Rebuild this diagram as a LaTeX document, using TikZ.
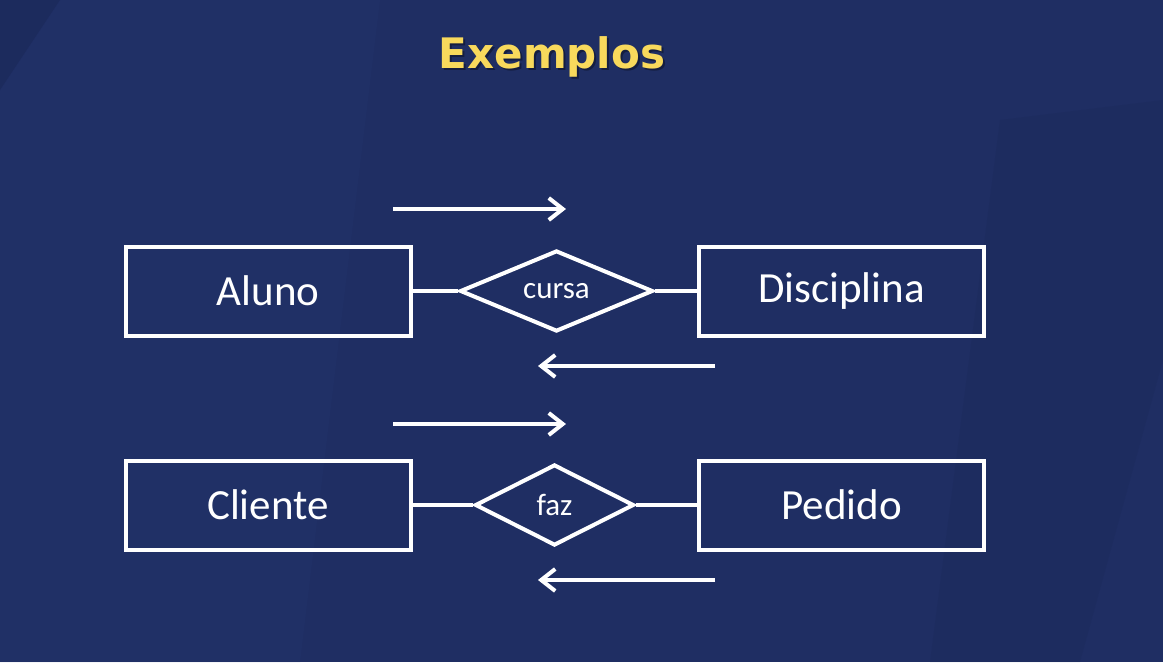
\documentclass[tikz,border=0pt]{standalone}
\usepackage{fontspec}
\setmainfont{Carlito}
\newfontfamily\titlefont{DejaVu Sans}
\usetikzlibrary{shapes.geometric,arrows.meta}
\definecolor{bgblue}{HTML}{1F2E63}
\definecolor{bglight}{HTML}{22346C}
\definecolor{bgdark}{HTML}{1B2959}
\definecolor{titleyellow}{HTML}{F8D95C}
\tikzset{
  entity/.style={draw=white, line width=4pt, minimum width=285pt, minimum height=89pt,
    inner sep=0pt, text=white, font=\fontsize{43}{47}\selectfont},
  relation/.style={draw=white, line width=4pt, diamond, aspect=2.4, inner sep=1pt,
    text=white, font=\fontsize{31}{35}\selectfont},
  link/.style={draw=white, line width=4pt},
  flow/.style={draw=white, line width=4pt, -{Straight Barb[length=14pt, width=22pt, line width=4pt]}},
}
\begin{document}
\begin{tikzpicture}[x=1pt, y=-1pt]
\useasboundingbox (0,0) rectangle (1163,662);
\fill[bgblue] (0,0) rectangle (1163,662);
\fill[bglight, opacity=0.4] (0,90) -- (60,0) -- (380,0) -- (300,662) -- (0,662) -- cycle;
\fill[bgdark, opacity=0.35] (1000,120) -- (1163,100) -- (1163,360) -- (1080,662) -- (930,662) -- cycle;
\fill[bgdark, opacity=0.5] (0,0) -- (60,0) -- (0,90) -- cycle;
% title
\node[font=\titlefont\bfseries\fontsize{42}{46}\selectfont, text=black, opacity=0.35] at (554,59) {Exemplos};
\node (title) [font=\titlefont\bfseries\fontsize{42}{46}\selectfont, text=titleyellow] at (552,57) {Exemplos};
% first row
\node (aluno) [entity] at (268,291) {Aluno};
\node (disc) [entity] at (841.5,291) {Disciplina};
\node (cursa) [relation, minimum width=193pt, minimum height=81pt] at (556.5,291) {cursa};
\draw[link] (aluno.east) -- (cursa.west);
\draw[link] (cursa.east) -- (disc.west);
\coordinate (a1s) at (393,209);
\coordinate (a1e) at (566,209);
\coordinate (a2s) at (715,366);
\coordinate (a2e) at (538,366);
\draw[flow] (a1s) -- (a1e);
\draw[flow] (a2s) -- (a2e);
% second row
\node (cliente) [entity] at (268,505) {Cliente};
\node (pedido) [entity] at (841.5,505) {Pedido};
\node (faz) [relation, minimum width=159pt, minimum height=81pt] at (554.5,505) {faz};
\draw[link] (cliente.east) -- (faz.west);
\draw[link] (faz.east) -- (pedido.west);
\coordinate (b1s) at (393,424);
\coordinate (b1e) at (566,424);
\coordinate (b2s) at (715,580);
\coordinate (b2e) at (538,580);
\draw[flow] (b1s) -- (b1e);
\draw[flow] (b2s) -- (b2e);
\end{tikzpicture}
\end{document}
